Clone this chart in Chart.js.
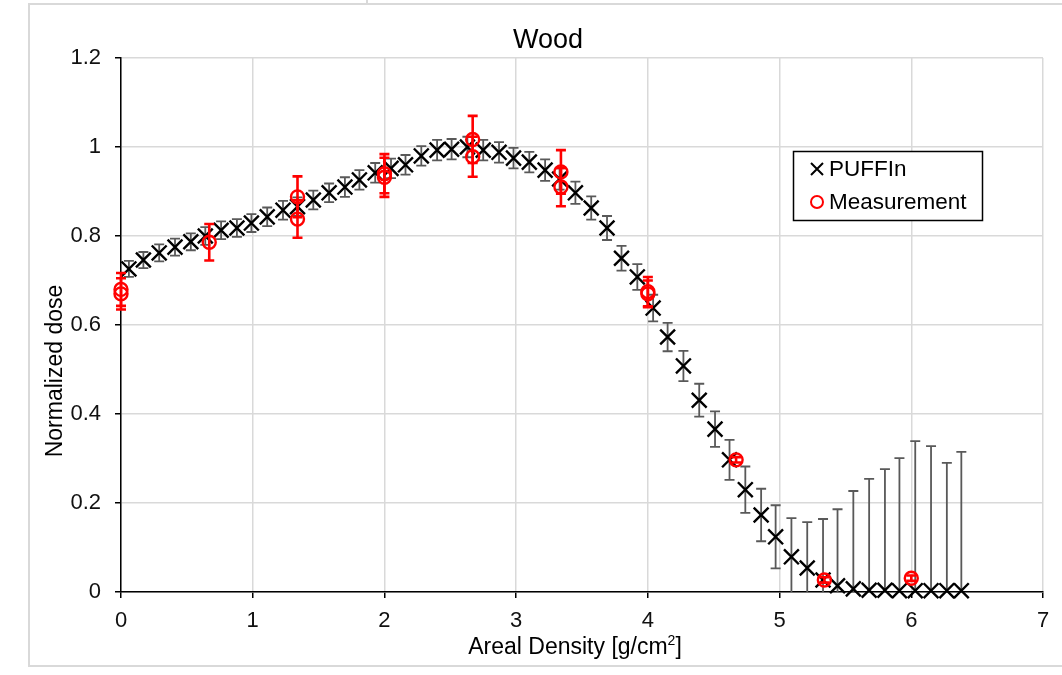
<!DOCTYPE html>
<html>
<head>
<meta charset="utf-8">
<title>Wood</title>
<script src="https://cdn.jsdelivr.net/npm/chart.js@4.4.1/dist/chart.umd.min.js"></script>
<style>
  html, body { margin: 0; padding: 0; background: #fff; }
  body { width: 1062px; height: 675px; position: relative; overflow: hidden; }
  #frame {
    position: absolute; left: 28px; top: 3px; width: 1100px; height: 664px;
    border: 2px solid #d9d9d9; box-sizing: border-box;
  }
  #notch { position: absolute; left: 366px; top: 0; width: 2px; height: 4px; background: #d9d9d9; }
  #wrap { position: absolute; left: 0; top: 0; width: 1062px; height: 675px; }
</style>
</head>
<body>
<div id="frame"></div>
<div id="notch"></div>
<div id="wrap"><canvas id="chart" width="1062" height="675"></canvas></div>
<script>
// PUFFIn simulation: areal density [g/cm2], normalized dose and its uncertainty
const puffinX = [0.06, 0.17, 0.29, 0.41, 0.53, 0.64, 0.76, 0.88, 0.99, 1.11,
                 1.23, 1.34, 1.46, 1.58, 1.70, 1.81, 1.93, 2.05, 2.16, 2.28,
                 2.40, 2.51, 2.63, 2.75, 2.87, 2.98, 3.10, 3.22, 3.33, 3.45,
                 3.57, 3.69, 3.80, 3.92, 4.04, 4.15, 4.27, 4.39, 4.51, 4.62,
                 4.74, 4.86, 4.97, 5.09, 5.21, 5.33, 5.44, 5.56, 5.68, 5.80,
                 5.91, 6.03, 6.15, 6.27, 6.38];
const puffinDose = [0.726, 0.746, 0.762, 0.775, 0.787, 0.800, 0.813, 0.818, 0.829, 0.843,
                    0.858, 0.866, 0.881, 0.897, 0.910, 0.926, 0.942, 0.952, 0.960, 0.980,
                    0.993, 0.995, 1.000, 0.993, 0.988, 0.975, 0.966, 0.948, 0.928, 0.897,
                    0.863, 0.818, 0.750, 0.708, 0.638, 0.573, 0.508, 0.431, 0.366, 0.297,
                    0.230, 0.173, 0.124, 0.079, 0.054, 0.027, 0.014, 0.007, 0.004, 0.004,
                    0.003, 0.003, 0.003, 0.003, 0.003];
const puffinErr = [0.018, 0.018, 0.019, 0.019, 0.019, 0.020, 0.020, 0.020, 0.020, 0.021,
                   0.021, 0.021, 0.021, 0.021, 0.022, 0.022, 0.022, 0.022, 0.022, 0.022,
                   0.023, 0.023, 0.023, 0.023, 0.023, 0.023, 0.023, 0.024, 0.024, 0.025,
                   0.026, 0.027, 0.028, 0.029, 0.030, 0.032, 0.034, 0.037, 0.040, 0.045,
                   0.052, 0.059, 0.071, 0.087, 0.103, 0.137, 0.172, 0.220, 0.250, 0.272,
                   0.298, 0.336, 0.325, 0.287, 0.312];

// Measurements with their uncertainty
const measX    = [0, 0, 0.67, 1.34, 1.34, 2.0, 2.0, 2.67, 2.67, 3.34, 3.34, 4.0, 4.0, 4.67, 5.34, 6.0];
const measDose = [0.680, 0.670, 0.786, 0.888, 0.838, 0.940, 0.932, 1.017, 0.978, 0.944, 0.910, 0.675, 0.670, 0.297, 0.027, 0.031];
const measErr  = [0.037, 0.035, 0.041, 0.046, 0.042, 0.044, 0.044, 0.053, 0.045, 0.049, 0.043, 0.033, 0.030, 0.006, 0.006, 0.006];

// Axis tick labels
const xTickLabels = ['0', '1', '2', '3', '4', '5', '6', '7'];
const yTickLabels = ['0', '0.2', '0.4', '0.6', '0.8', '1', '1.2'];

const FONT = '"Liberation Sans", Arial, sans-serif';

const toPoints = (xs, ys) => xs.map((x, i) => ({ x: x, y: ys[i] }));

// Vertical error bars with caps, drawn just before each dataset's markers
const errorBars = {
  id: 'errorBars',
  beforeDatasetDraw(chart, args) {
    const ds = chart.data.datasets[args.index];
    if (!ds.errors) return;
    const { ctx, chartArea: a } = chart;
    const xs = chart.scales.x, ys = chart.scales.y;
    ctx.save();
    ctx.beginPath();
    ctx.rect(a.left - 20, a.top - 40, a.right - a.left + 40, a.bottom - a.top + 40);
    ctx.clip();
    ctx.strokeStyle = ds.errorColor;
    ctx.lineWidth = ds.errorWidth;
    const cap = 5;
    ds.data.forEach((p, i) => {
      const e = ds.errors[i];
      const px = xs.getPixelForValue(p.x);
      const top = ys.getPixelForValue(p.y + e);
      const bot = ys.getPixelForValue(p.y - e);
      ctx.beginPath();
      ctx.moveTo(px, top); ctx.lineTo(px, bot);
      ctx.moveTo(px - cap, top); ctx.lineTo(px + cap, top);
      ctx.moveTo(px - cap, bot); ctx.lineTo(px + cap, bot);
      ctx.stroke();
    });
    ctx.restore();
  }
};

// Title, axis titles and the boxed legend
const decorations = {
  id: 'decorations',
  afterDraw(chart) {
    const { ctx } = chart;
    ctx.save();
    ctx.fillStyle = '#000';
    ctx.textAlign = 'center';
    ctx.textBaseline = 'alphabetic';
    ctx.font = '27px ' + FONT;
    ctx.fillText('Wood', 548, 48);

    // x axis title with a raised 2
    const base = 'Areal Density [g/cm';
    ctx.font = '23px ' + FONT;
    const w1 = ctx.measureText(base).width;
    ctx.font = '14px ' + FONT;
    const w2 = ctx.measureText('2').width;
    ctx.font = '23px ' + FONT;
    const w3 = ctx.measureText(']').width;
    const x0 = 575 - (w1 + w2 + w3) / 2;
    ctx.textAlign = 'left';
    ctx.fillText(base, x0, 654);
    ctx.font = '14px ' + FONT;
    ctx.fillText('2', x0 + w1, 645);
    ctx.font = '23px ' + FONT;
    ctx.fillText(']', x0 + w1 + w2, 654);

    // y axis title
    ctx.save();
    ctx.translate(62, 371);
    ctx.rotate(-Math.PI / 2);
    ctx.textAlign = 'center';
    ctx.font = '23px ' + FONT;
    ctx.fillText('Normalized dose', 0, 0);
    ctx.restore();

    // legend
    const lx = 793, ly = 151, lw = 189, lh = 69;
    ctx.fillStyle = '#fff';
    ctx.fillRect(lx, ly, lw, lh);
    ctx.strokeStyle = '#000';
    ctx.lineWidth = 1.5;
    ctx.strokeRect(lx + 0.5, ly + 0.5, lw, lh);
    const rows = [169, 202];
    chart.data.datasets.forEach((ds, i) => {
      const cy = rows[i];
      ctx.strokeStyle = ds.borderColor;
      ctx.lineWidth = 2;
      if (ds.pointStyle === 'crossRot') {
        const r = 6;
        ctx.beginPath();
        ctx.moveTo(817 - r, cy - r); ctx.lineTo(817 + r, cy + r);
        ctx.moveTo(817 - r, cy + r); ctx.lineTo(817 + r, cy - r);
        ctx.stroke();
      } else {
        ctx.beginPath();
        ctx.arc(817, cy, 6, 0, Math.PI * 2);
        ctx.stroke();
      }
      ctx.fillStyle = '#000';
      ctx.textAlign = 'left';
      ctx.textBaseline = 'middle';
      ctx.font = '22.5px ' + FONT;
      ctx.fillText(ds.label, 829, cy + 1);
    });
    ctx.restore();
  }
};

new Chart(document.getElementById('chart'), {
  type: 'scatter',
  data: {
    datasets: [
      {
        label: 'PUFFIn',
        data: toPoints(puffinX, puffinDose),
        errors: puffinErr,
        errorColor: '#595959',
        errorWidth: 1.8,
        pointStyle: 'crossRot',
        pointRadius: 10.5,
        pointHoverRadius: 10.5,
        borderColor: '#000',
        backgroundColor: '#000',
        pointBorderWidth: 2.4,
        clip: false,
        order: 2
      },
      {
        label: 'Measurement',
        data: toPoints(measX, measDose),
        errors: measErr,
        errorColor: '#ff0000',
        errorWidth: 2.6,
        pointStyle: 'circle',
        pointRadius: 6.5,
        pointHoverRadius: 6.5,
        borderColor: '#ff0000',
        backgroundColor: 'rgba(0,0,0,0)',
        pointBorderWidth: 2.4,
        clip: false,
        order: 1
      }
    ]
  },
  options: {
    responsive: false,
    animation: false,
    events: [],
    layout: { padding: { left: 0, top: 58, right: 19, bottom: 0 } },
    plugins: { legend: { display: false }, title: { display: false }, tooltip: { enabled: false } },
    scales: {
      x: {
        type: 'linear', min: 0, max: 7,
        ticks: {
          stepSize: 1, padding: 10, color: '#111',
          font: { family: FONT, size: 22 },
          callback: (v, i) => xTickLabels[i]
        },
        grid: { color: '#d9d9d9', lineWidth: 1.5, tickLength: 6, tickColor: '#000', tickWidth: 1.5 },
        border: { color: '#000', width: 1.5 },
        afterFit(scale) { scale.height = 83; }
      },
      y: {
        type: 'linear', min: 0, max: 1.2,
        ticks: {
          stepSize: 0.2, padding: 14, color: '#111',
          font: { family: FONT, size: 22 },
          callback: (v, i) => yTickLabels[i]
        },
        grid: { color: '#d9d9d9', lineWidth: 1.5, tickLength: 6, tickColor: '#000', tickWidth: 1.5 },
        border: { color: '#000', width: 1.5 },
        afterFit(scale) { scale.width = 121; }
      }
    }
  },
  plugins: [errorBars, decorations]
});
</script>
</body>
</html>
